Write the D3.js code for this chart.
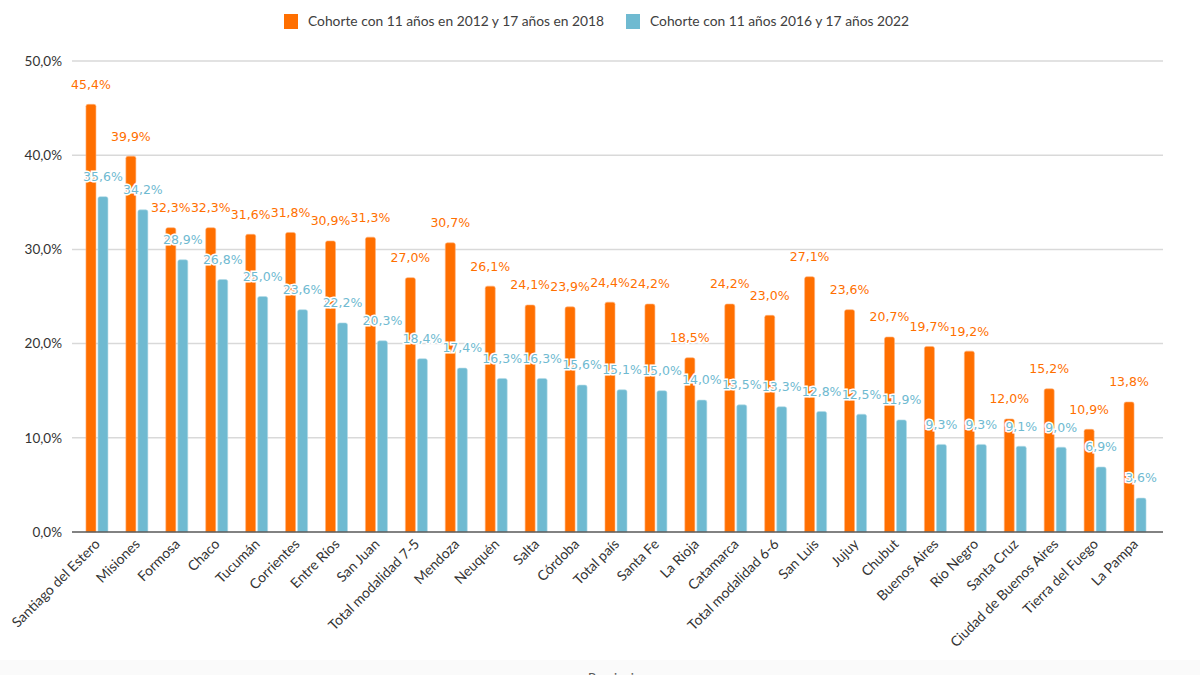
<!DOCTYPE html>
<html>
<head>
<meta charset="utf-8">
<script src="https://cdn.jsdelivr.net/npm/d3@7"></script>
<style>
  body { margin: 0; background: #fff; }
  svg { display: block; }
</style>
</head>
<body>
<div id="chart"></div>
<script>
// datos
const categories = ["Santiago del Estero", "Misiones", "Formosa", "Chaco", "Tucumán", "Corrientes", "Entre Ríos", "San Juan", "Total modalidad 7-5", "Mendoza", "Neuquén", "Salta", "Córdoba", "Total país", "Santa Fe", "La Rioja", "Catamarca", "Total modalidad 6-6", "San Luis", "Jujuy", "Chubut", "Buenos Aires", "Río Negro", "Santa Cruz", "Ciudad de Buenos Aires", "Tierra del Fuego", "La Pampa"];
const cohorte2012 = [45.4, 39.9, 32.3, 32.3, 31.6, 31.8, 30.9, 31.3, 27.0, 30.7, 26.1, 24.1, 23.9, 24.4, 24.2, 18.5, 24.2, 23.0, 27.1, 23.6, 20.7, 19.7, 19.2, 12.0, 15.2, 10.9, 13.8];
const cohorte2016 = [35.6, 34.2, 28.9, 26.8, 25.0, 23.6, 22.2, 20.3, 18.4, 17.4, 16.3, 16.3, 15.6, 15.1, 15.0, 14.0, 13.5, 13.3, 12.8, 12.5, 11.9, 9.3, 9.3, 9.1, 9.0, 6.9, 3.6];
const seriesNames = ["Cohorte con 11 años en 2012 y 17 años en 2018", "Cohorte con 11 años 2016 y 17 años 2022"];
const yTicks = [0, 10, 20, 30, 40, 50];

const W = 1200, H = 675;
const colors = ["#ff6f00", "#6fbad1"];
const fmt = v => d3.format(".1f")(v).replace(".", ",") + "%";

const svg = d3.select("#chart").append("svg").attr("width", W).attr("height", H);

// franja gris inferior (título del eje, cortado como en el original)
svg.append("rect").attr("x", 0).attr("y", 660).attr("width", W).attr("height", 15).attr("fill", "#fafafa");
svg.append("text").attr("x", 588).attr("y", 683)
  .attr("font-family", "Lato, sans-serif").attr("font-size", 13).attr("fill", "#595959").text("Provincia");

const x = d3.scaleBand().domain(categories).range([77, 1155]).padding(0);
const y = d3.scaleLinear().domain([0, 50]).range([532, 61]);

// grilla
svg.append("g").selectAll("line").data(yTicks.slice(1)).join("line")
  .attr("x1", 72).attr("x2", 1163)
  .attr("y1", d => y(d)).attr("y2", d => y(d))
  .attr("stroke", "#d9d9d9").attr("stroke-width", 1.5);

// etiquetas eje y
svg.append("g").selectAll("text").data(yTicks).join("text")
  .attr("x", 62).attr("y", d => y(d)).attr("dy", "0.35em")
  .attr("text-anchor", "end")
  .attr("font-family", "Lato, sans-serif").attr("font-size", 13.5).attr("fill", "#333")
  .text(d => d3.format(".1f")(d).replace(".", ",") + "%");

const barW = 10, gap = 2;
const series = [cohorte2012, cohorte2016];

series.forEach((vals, s) => {
  const off = s === 0 ? -barW - gap / 2 : gap / 2;
  svg.append("g").selectAll("path").data(vals).join("path")
    .attr("d", (d, i) => {
      const x0 = x(categories[i]) + x.bandwidth() / 2 + off;
      const top = y(d), bot = y(0), r = 2;
      return `M${x0},${bot}V${top + r}Q${x0},${top} ${x0 + r},${top}H${x0 + barW - r}Q${x0 + barW},${top} ${x0 + barW},${top + r}V${bot}Z`;
    })
    .attr("fill", colors[s])
    .attr("stroke", s === 0 ? "#ffb27a" : "#b3dbe8").attr("stroke-width", 0.6);
});

// eje x
svg.append("line").attr("x1", 72).attr("x2", 1163).attr("y1", y(0)).attr("y2", y(0))
  .attr("stroke", "#595959").attr("stroke-width", 1.5);

// etiquetas de valores
series.forEach((vals, s) => {
  const off = s === 0 ? -barW / 2 - gap / 2 : barW / 2 + gap / 2;
  svg.append("g").selectAll("text").data(vals).join("text")
    .attr("x", (d, i) => x(categories[i]) + x.bandwidth() / 2 + off)
    .attr("y", d => y(d) - 20)
    .attr("dy", "0.35em")
    .attr("text-anchor", "middle")
    .attr("font-family", "'DejaVu Sans', Verdana, sans-serif").attr("font-size", 12.5)
    .attr("fill", colors[s])
    .attr("stroke", "#fff").attr("stroke-width", 3).attr("paint-order", "stroke")
    .text(d => fmt(d));
});

// etiquetas categorías
svg.append("g").selectAll("text").data(categories).join("text")
  .attr("transform", d => `translate(${x(d) + x.bandwidth() / 2 + 4},${y(0) + 13}) rotate(-45)`)
  .attr("text-anchor", "end")
  .attr("font-family", "Lato, sans-serif").attr("font-size", 14).attr("fill", "#333")
  .text(d => d);

// leyenda
const legX = [284, 626];
seriesNames.forEach((n, s) => {
  const g = svg.append("g").attr("transform", `translate(${legX[s]},14)`);
  g.append("rect").attr("width", 14).attr("height", 15).attr("fill", colors[s]);
  g.append("text").attr("x", 24).attr("y", 7.5).attr("dy", "0.35em")
    .attr("font-family", "Lato, sans-serif").attr("font-size", 13.8).attr("fill", "#404040")
    .text(n);
});
</script>
</body>
</html>
